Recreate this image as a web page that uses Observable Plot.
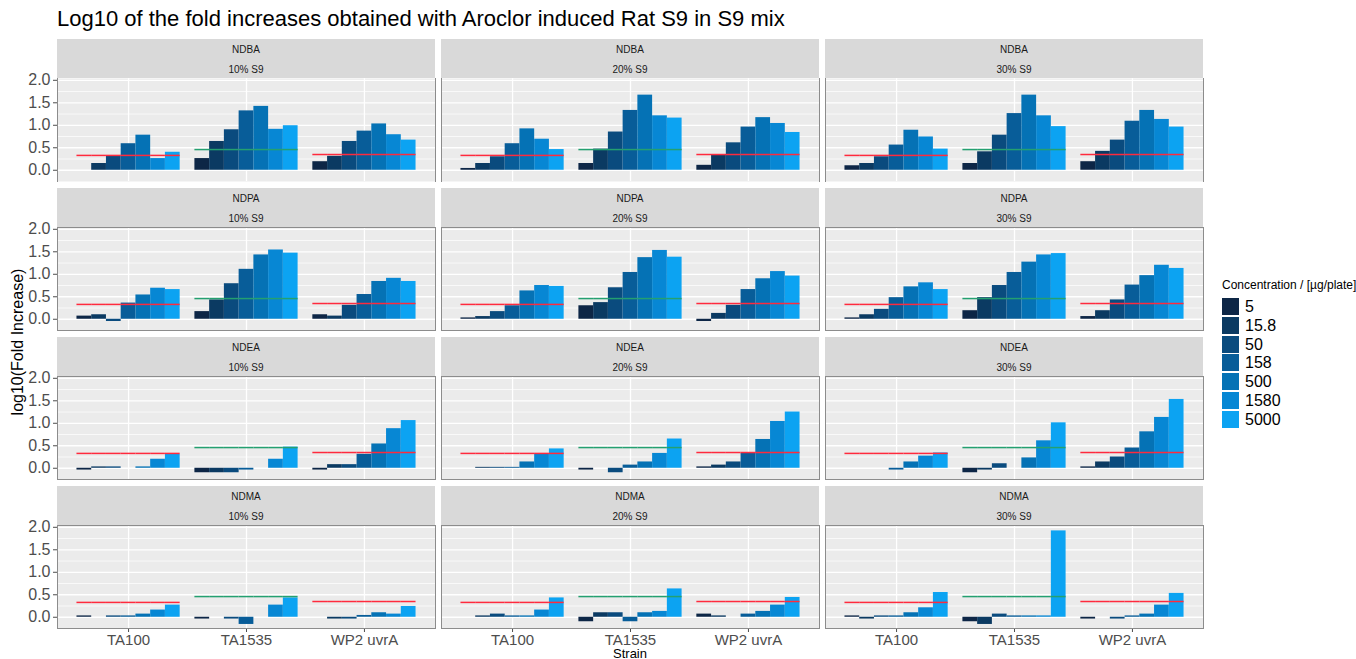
<!DOCTYPE html>
<html>
<head>
<meta charset="utf-8">
<script src="https://cdn.jsdelivr.net/npm/d3@7"></script>
<script src="https://cdn.jsdelivr.net/npm/@observablehq/plot@0.6"></script>
<style>
  html, body { margin: 0; padding: 0; overflow: hidden; background: #fff; }
  body { width: 1356px; height: 659px; position: relative; font-family: "Liberation Sans", Arial, sans-serif; }
  .abs { position: absolute; }
  .strip { position: absolute; background: #D9D9D9; color: #1A1A1A; font-size: 10px; text-align: center; }
  .strip div { position: absolute; left: 0; right: 0; line-height: 12px; }
  .title { position: absolute; left: 57px; top: 7px; font-size: 22px; line-height: 24px; color: #000; white-space: nowrap; }
  .ytitle { position: absolute; width: 300px; text-align: center; font-size: 16px; line-height: 18px; color: #000; transform: rotate(-90deg); white-space: nowrap; }
  .xtitle { position: absolute; width: 200px; text-align: center; font-size: 13px; line-height: 11px; color: #000; }
  .legend-title { position: absolute; font-size: 12px; line-height: 14px; color: #000; white-space: nowrap; }
  .key { position: absolute; width: 17px; height: 17px; }
  .klabel { position: absolute; font-size: 16px; line-height: 17px; color: #000; }
</style>
</head>
<body>
<script>
// ---------- data ----------
const strains = ["TA100", "TA1535", "WP2 uvrA"];
const concentrations = ["5", "15.8", "50", "158", "500", "1580", "5000"];
const compounds = ["NDBA", "NDPA", "NDEA", "NDMA"];
const s9Levels = ["10% S9", "20% S9", "30% S9"];
const concColors = ["#0D2646", "#0B3A62", "#0A4B7E", "#085D99", "#0572B5", "#0787D4", "#0CA3F2"];
const thresholds = [0.33, 0.46, 0.35];           // TA100, TA1535, WP2 uvrA
const thresholdColors = ["#FF2A3D", "#24A070", "#FF2A3D"];
const yTicks = [0, 0.5, 1, 1.5, 2];
const yMinorTicks = [0.25, 0.75, 1.25, 1.75];

// log10(fold increase): TA100 (7 conc), TA1535 (7 conc), WP2 uvrA (7 conc); null = no bar
const NDBA_10 = [null, 0.15, 0.31, 0.59, 0.78, 0.26, 0.40,   0.26, 0.64, 0.90, 1.32, 1.42, 0.91, 0.99,   0.19, 0.31, 0.64, 0.87, 1.03, 0.79, 0.67];
const NDBA_20 = [0.04, 0.15, 0.30, 0.59, 0.92, 0.69, 0.46,   0.15, 0.47, 0.85, 1.33, 1.67, 1.21, 1.16,   0.11, 0.35, 0.61, 0.96, 1.17, 1.04, 0.84];
const NDBA_30 = [0.10, 0.15, 0.30, 0.56, 0.89, 0.74, 0.47,   0.15, 0.41, 0.78, 1.26, 1.67, 1.21, 0.97,   0.19, 0.42, 0.67, 1.09, 1.33, 1.13, 0.96];
const NDPA_10 = [0.07, 0.10, -0.05, 0.36, 0.54, 0.69, 0.66,  0.17, 0.43, 0.79, 1.11, 1.43, 1.54, 1.47,   0.10, 0.07, 0.31, 0.55, 0.84, 0.91, 0.84];
const NDPA_20 = [0.03, 0.06, 0.17, 0.30, 0.63, 0.75, 0.73,   0.30, 0.37, 0.70, 1.04, 1.37, 1.53, 1.38,   -0.05, 0.13, 0.31, 0.66, 0.90, 1.06, 0.96];
const NDPA_30 = [0.03, 0.10, 0.22, 0.48, 0.72, 0.81, 0.66,   0.19, 0.48, 0.75, 1.04, 1.27, 1.43, 1.46,   0.06, 0.19, 0.43, 0.76, 0.97, 1.20, 1.13];
const NDEA_10 = [-0.04, 0.03, 0.03, null, 0.03, 0.20, 0.31,  -0.10, -0.10, -0.10, -0.04, null, 0.20, 0.47, -0.04, 0.08, 0.08, 0.31, 0.54, 0.88, 1.06];
const NDEA_20 = [null, 0.02, 0.02, 0.02, 0.14, 0.32, 0.43,   -0.04, null, -0.10, 0.07, 0.14, 0.33, 0.65,  0.03, 0.07, 0.14, 0.33, 0.64, 1.04, 1.25];
const NDEA_30 = [null, null, null, -0.04, 0.14, 0.27, 0.34,  -0.10, -0.04, 0.10, null, 0.23, 0.61, 1.01,  0.03, 0.14, 0.25, 0.45, 0.81, 1.13, 1.53];
const NDMA_10 = [0.03, null, 0.03, 0.03, 0.07, 0.16, 0.27,   -0.04, null, -0.04, -0.16, null, 0.27, 0.43, null, -0.04, -0.04, 0.04, 0.10, 0.07, 0.24];
const NDMA_20 = [null, 0.03, 0.07, 0.03, 0.03, 0.16, 0.43,   -0.10, 0.10, 0.10, -0.10, 0.10, 0.13, 0.63,  0.07, 0.03, null, 0.07, 0.13, 0.27, 0.44];
const NDMA_30 = [0.03, -0.04, 0.03, 0.03, 0.10, 0.21, 0.55,  -0.10, -0.16, 0.07, 0.03, 0.03, 0.03, 1.92,  -0.04, null, -0.04, 0.03, 0.07, 0.27, 0.53];

const panelValues = {
  NDBA: [NDBA_10, NDBA_20, NDBA_30],
  NDPA: [NDPA_10, NDPA_20, NDPA_30],
  NDEA: [NDEA_10, NDEA_20, NDEA_30],
  NDMA: [NDMA_10, NDMA_20, NDMA_30]
};

// ---------- layout ----------
const FONT = '"Liberation Sans", Arial, sans-serif';
const panelLefts = [57, 441, 825];
const panelW = 378;
const stripTops = [39, 188, 337, 486];
const stripH = 39;
const panelH = 103;

const keyOf = (s, c) => s + "|" + c;
const xDomain = strains.flatMap((s, i) => [...(i ? ["gap" + i] : []), ...concentrations.map(c => keyOf(s, c))]);
const centerKeys = strains.map(s => keyOf(s, concentrations[3]));
const thrRows = strains.flatMap((s, i) => concentrations.map(c => ({strain: s, key: keyOf(s, c), value: thresholds[i]})));

function el(cls, styles, text) {
  const d = document.createElement("div");
  if (cls) d.className = cls;
  Object.assign(d.style, styles || {});
  if (text != null) d.textContent = text;
  document.body.appendChild(d);
  return d;
}

el("title", {}, "Log10 of the fold increases obtained with Aroclor induced Rat S9 in S9 mix");

compounds.forEach((comp, r) => {
  s9Levels.forEach((lvl, c) => {
    const vals = panelValues[comp][c];
    const rows = strains.flatMap((s, si) => concentrations.map((cc, ci) => ({
      strain: s, conc: cc, key: keyOf(s, cc), value: vals[si * 7 + ci]
    })));
    const isLeft = c === 0;
    const isBottom = r === compounds.length - 1;
    const ml = isLeft ? panelLefts[0] : 0;
    const mb = isBottom ? 22 : 0;

    // strip
    const strip = el("strip", {left: panelLefts[c] + "px", top: stripTops[r] + "px", width: panelW + "px", height: stripH + "px"});
    const l1 = document.createElement("div"); l1.textContent = comp; l1.style.top = "5px"; strip.appendChild(l1);
    const l2 = document.createElement("div"); l2.textContent = lvl; l2.style.top = "25px"; strip.appendChild(l2);

    const marks = [
      Plot.frame({fill: "#EBEBEB"}),
      Plot.ruleY(yMinorTicks, {stroke: "#ffffff", strokeWidth: 0.7}),
      Plot.ruleY(yTicks, {stroke: "#ffffff", strokeWidth: 1.3}),
      Plot.ruleX(centerKeys, {stroke: "#ffffff", strokeWidth: 1.3}),
      Plot.barY(rows, {x: "key", y: "value", fill: "conc"}),
      ...strains.map((s, i) => Plot.tickY(thrRows.filter(d => d.strain === s), {x: "key", y: "value", stroke: thresholdColors[i], strokeWidth: 1.5}))
    ];
    if (r === 0) {
      marks.push(Plot.frame({stroke: "#8c8c8c", anchor: "left"}));
      marks.push(Plot.frame({stroke: "#8c8c8c", anchor: "right"}));
    } else {
      marks.push(Plot.frame({stroke: "#8c8c8c"}));
    }

    const chart = Plot.plot({
      width: ml + panelW,
      height: panelH + mb,
      marginLeft: ml, marginRight: 0, marginTop: 0, marginBottom: mb,
      style: {fontFamily: FONT, fontSize: "16px", color: "#4D4D4D", background: "transparent", overflow: "visible"},
      x: {type: "band", domain: xDomain, paddingInner: 0, paddingOuter: 1.32, round: false,
          axis: isBottom ? "bottom" : null, ticks: centerKeys,
          tickFormat: k => centerKeys.includes(k) ? k.split("|")[0] : "",
          tickSize: 4, tickPadding: 2, label: null, fontSize: 15},
      y: {domain: [-0.25, 2.04], axis: isLeft ? "left" : null, ticks: yTicks,
          tickFormat: d3.format(".1f"), tickSize: 4, tickPadding: 3, label: null},
      color: {type: "ordinal", domain: concentrations, range: concColors},
      marks
    });
    if (isBottom) chart.querySelectorAll('g[aria-label="x-axis tick label"], g[aria-label="x-axis"]').forEach(g => g.setAttribute("font-size", "15"));
    const wrap = el("abs", {left: (panelLefts[c] - ml) + "px", top: (stripTops[r] + stripH) + "px"});
    wrap.appendChild(chart);
  });
});

// axis titles
el("ytitle", {left: (18 - 150) + "px", top: (342 - 9) + "px"}, "log10(Fold Increase)");
el("xtitle", {left: (630 - 100) + "px", top: "648px"}, "Strain");

// legend
el("legend-title", {left: "1222px", top: "278px"}, "Concentration / [µg/plate]");
concentrations.forEach((c, i) => {
  const top = 298 + i * 18.8;
  el("key", {left: "1222px", top: top + "px", background: concColors[i]});
  el("klabel", {left: "1245px", top: top + "px"}, c);
});
</script>
</body>
</html>
